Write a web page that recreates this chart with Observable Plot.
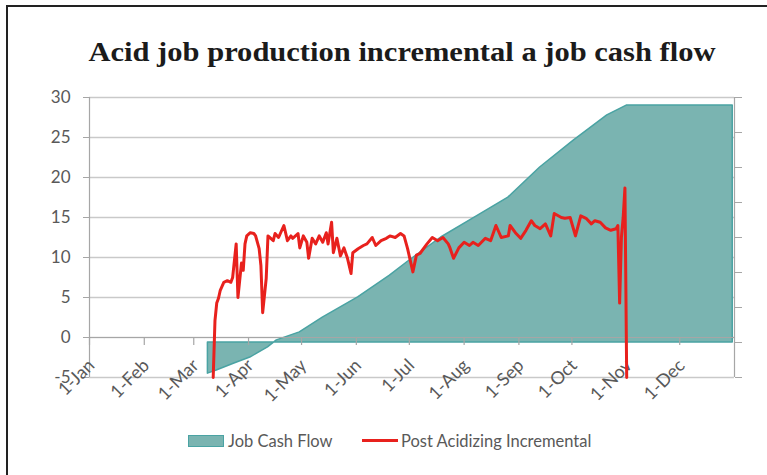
<!DOCTYPE html>
<html>
<head>
<meta charset="utf-8">
<script src="https://cdn.jsdelivr.net/npm/d3@7"></script>
<script src="https://cdn.jsdelivr.net/npm/@observablehq/plot@0.6"></script>
<style>
  html, body { margin: 0; padding: 0; background: #fff; }
  #wrap { position: relative; width: 767px; height: 475px; overflow: hidden; background: #fff; }
  #frame { position: absolute; left: 6px; top: 5px; width: 900px; height: 600px;
           border-top: 2px solid #222; border-left: 2px solid #222; }
  #title { position: absolute; left: 0; top: 36px; width: 804px; text-align: center;
           font-family: "Liberation Serif", "DejaVu Serif", serif; font-weight: bold;
           font-size: 28px; line-height: 32px; color: #1b1b1b; white-space: nowrap;
           transform: scaleX(1.09); transform-origin: 402px 50%; }
  #chart { position: absolute; left: 0; top: 80px; }
  .leg { position: absolute; font-family: Lato, sans-serif; font-size: 16.5px; color: #595959;
         line-height: 20px; top: 431px; white-space: nowrap; }
  .sw { position: absolute; box-sizing: border-box; }
</style>
</head>
<body>
<div id="wrap">
  <div id="frame"></div>
  <div id="title">Acid job production incremental a job cash flow</div>
  <div id="chart"></div>
  <div class="sw" style="left:188px;top:435px;width:36px;height:12px;background:#7ab4b1;border:1px solid #4aa3a3;"></div>
  <div class="leg" style="left:228px;">Job Cash Flow</div>
  <div class="sw" style="left:362px;top:439px;width:36px;height:3px;background:#e8211d;"></div>
  <div class="leg" style="left:401px;">Post Acidizing Incremental</div>
</div>
<script>
// ---- data (day of year offsets from 1-Jan, 0 = 1-Jan) ----
const incDays = [70, 71, 72, 73, 74, 76, 78, 80, 81, 83, 84, 86, 87, 88, 89, 91, 93, 94, 96, 97,
  98, 100, 101, 104, 105, 107, 110, 112, 114, 115, 118, 119, 121, 123, 124, 126, 128, 130, 132, 134,
  135, 137, 138, 140, 142, 144, 146, 148, 149, 152, 155, 157, 160, 162, 165, 168, 170, 173, 176, 178,
  180, 183, 185, 187, 191, 194, 197, 200, 203, 204, 206, 209, 212, 215, 217, 220, 224, 227, 230, 233,
  237, 238, 241, 244, 247, 250, 252, 255, 258, 261, 263, 267, 269, 272, 275, 278, 281, 284, 286, 289,
  292, 295, 298, 299, 300, 301, 302, 303, 304];
const incValues = [-5, 2.1, 4.3, 4.9, 5.9, 6.9, 7.1, 6.9, 7.5, 11.7, 5.0, 9.3, 8.4, 11.7, 12.7, 13.1, 13.0, 12.7, 11.1, 9.0,
  3.1, 7.4, 12.7, 12.1, 13.0, 12.5, 14.0, 12.1, 12.7, 12.4, 13.0, 11.2, 12.7, 11.9, 9.9, 12.4, 11.7, 12.7, 11.9, 13.1,
  11.7, 14.4, 10.6, 12.4, 10.2, 11.2, 9.9, 8.0, 10.6, 11.1, 11.5, 11.7, 12.5, 11.5, 12.1, 12.4, 12.7, 12.5, 13.0, 12.7,
  11.1, 8.2, 10.3, 10.5, 11.7, 12.5, 12.1, 12.5, 11.7, 11.2, 9.9, 11.2, 11.9, 11.5, 11.9, 11.5, 12.4, 12.1, 14.0, 12.5,
  12.7, 14.0, 13.1, 12.4, 13.4, 14.6, 14.0, 13.6, 14.2, 12.7, 15.5, 15.0, 14.9, 15.0, 12.7, 15.2, 14.9, 14.2, 14.6, 14.4,
  13.7, 13.4, 13.6, 14.0, 4.3, 12.5, 15.0, 18.7, -5];

// Job cash flow, on the (unlabelled) secondary axis
const cashDays = [67, 72, 82, 91, 101, 106, 119, 132, 152, 170, 180, 199, 217, 237, 255, 274, 293, 304, 364];
const cashValues = [-0.89, -0.8, -0.6, -0.43, -0.14, 0.06, 0.29, 0.71, 1.29, 1.91, 2.3, 3.0, 3.54, 4.14, 5.0, 5.77, 6.49, 6.77, 6.77];

const monthLabels = ["1-Jan", "1-Feb", "1-Mar", "1-Apr", "1-May", "1-Jun", "1-Jul", "1-Aug", "1-Sep", "1-Oct", "1-Nov", "1-Dec"];
const leftTicks = [-5, 0, 5, 10, 15, 20, 25, 30];
const rightTicks = [-1, 0, 1, 2, 3, 4, 5, 6, 7];

// ---- build ----
const start = new Date(Date.UTC(2010, 0, 1));
const end = new Date(Date.UTC(2011, 0, 1));
const day = (d) => d3.utcDay.offset(start, d);
const monthDates = d3.utcMonth.range(start, end);
const toPrimary = d3.scaleLinear().domain([-1, 7]).range([-5, 30]);

const inc = incDays.map((d, i) => ({date: day(d), v: incValues[i]}));
const cash = cashDays.map((d, i) => ({date: day(d), v: cashValues[i]}));

const gray = "#a6a6a6";
const txt = "#595959";

const chart = Plot.plot({
  width: 767,
  height: 340,
  marginTop: 17,
  marginBottom: 43,
  marginLeft: 89,
  marginRight: 33,
  style: {fontFamily: "Lato, sans-serif", fontSize: "17px", background: "transparent"},
  x: {type: "utc", domain: [start, end]},
  y: {domain: [-5, 30]},
  marks: [
    Plot.gridY(leftTicks, {stroke: "#c9c9c9", strokeOpacity: 1, strokeWidth: 1.5}),
    Plot.areaY(cash, {x: "date", y1: () => toPrimary(0), y2: (d) => toPrimary(d.v),
      fill: "#7ab4b1", stroke: "#4aa3a3", strokeWidth: 1.5, curve: "linear"}),
    Plot.ruleY([0], {stroke: gray, strokeWidth: 1.2}),
    Plot.ruleX(monthDates, {y1: 0, y2: -1, stroke: gray, strokeWidth: 1.2}),
    Plot.ruleX([start, end], {y1: -5, y2: 30, stroke: gray, strokeWidth: 1.2}),
    Plot.axisY({anchor: "left", label: null, ticks: leftTicks, tickSize: 6, tickPadding: 13,
      tickFormat: (d) => String(d), stroke: gray, fill: txt}),
    Plot.axisY({anchor: "right", label: null, ticks: rightTicks.map((t) => toPrimary(t)), tickSize: 7,
      tickFormat: () => "", stroke: gray, fill: txt}),
    Plot.axisX({anchor: "bottom", label: null, ticks: monthDates, tickSize: 0, tickPadding: 0, tickRotate: -45,
      dy: -15, dx: 2, fontSize: 18, tickFormat: (d) => monthLabels[d.getUTCMonth()], fill: txt}),
    Plot.lineY(inc, {x: "date", y: "v", stroke: "#e8211d", strokeWidth: 3, strokeLinejoin: "round"})
  ]
});
document.getElementById("chart").appendChild(chart);
</script>
</body>
</html>
